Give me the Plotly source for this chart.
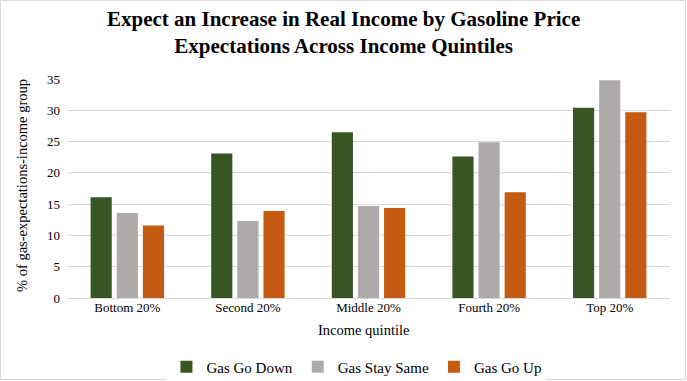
import plotly.graph_objects as go

categories = ["Bottom 20%", "Second 20%", "Middle 20%", "Fourth 20%", "Top 20%"]
gas_down = [16.1, 23.1, 26.5, 22.6, 30.4]
gas_same = [13.6, 12.3, 14.7, 24.9, 34.8]
gas_up = [11.6, 13.9, 14.4, 16.9, 29.7]

series = [
    ("Gas Go Down", gas_down, "#375623"),
    ("Gas Stay Same", gas_same, "#AEAAAA"),
    ("Gas Go Up", gas_up, "#C55A11"),
]

W, H = 687, 381
ml, mr, mt, mb = 67, 17, 79, 83
pw, ph = W - ml - mr, H - mt - mb

def py(pix):  # pixel y (from top) -> paper y
    return (H - mb - pix) / ph

def px(pix):
    return (pix - ml) / pw

fig = go.Figure()
for name, vals, col in series:
    fig.add_trace(go.Bar(x=categories, y=vals, name=name,
                         marker=dict(color=col, line=dict(width=0))))

font = "Liberation Serif, Times New Roman, serif"
fig.update_layout(
    width=W, height=H,
    margin=dict(l=ml, r=mr, t=mt, b=mb, autoexpand=False),
    paper_bgcolor="white", plot_bgcolor="white",
    barmode="group", bargap=0.35, bargroupgap=0.19,
    font=dict(family=font, color="#000000", size=13),
    legend=dict(orientation="h", x=0.48, xanchor="center", y=py(367), yanchor="middle",
                font=dict(family=font, size=15), traceorder="normal",
                itemwidth=30),
    xaxis=dict(showgrid=False, showline=False, ticks="", automargin=False,
               tickfont=dict(family=font, size=13)),
    yaxis=dict(range=[0, 35], dtick=5, showgrid=True, gridcolor="#D9D9D9", gridwidth=1,
               zeroline=True, zerolinecolor="#D9D9D9", zerolinewidth=1, automargin=False,
               showline=False, ticks="", tickfont=dict(family=font, size=13),
               ticklabelstandoff=6),
    annotations=[
        dict(text="<b>Expect an Increase in Real Income by Gasoline Price<br>Expectations Across Income Quintiles</b>",
             xref="paper", yref="paper", x=px(343), y=py(33), xanchor="center", yanchor="middle",
             showarrow=False, font=dict(family=font, size=21, color="#000000")),
        dict(text="Income quintile", xref="paper", yref="paper", x=px(363), y=py(330),
             xanchor="center", yanchor="middle", showarrow=False,
             font=dict(family=font, size=14.5)),
        dict(text="% of gas-expectations-income group", xref="paper", yref="paper",
             x=px(22), y=py(186), xanchor="center", yanchor="middle", textangle=-90,
             showarrow=False, font=dict(family=font, size=14.5)),
    ],
    shapes=[dict(type="rect", xref="paper", yref="paper",
                 x0=-(ml - 0.5) / pw, x1=1 + (mr - 1.5) / pw,
                 y0=-(mb - 1.5) / ph, y1=1 + (mt - 0.5) / ph,
                 line=dict(color="#D9D9D9", width=1), layer="below")],
)

fig.write_html("out.html", config={"displayModeBar": False},
               post_script="document.body.style.margin='0';document.body.style.padding='0';")
